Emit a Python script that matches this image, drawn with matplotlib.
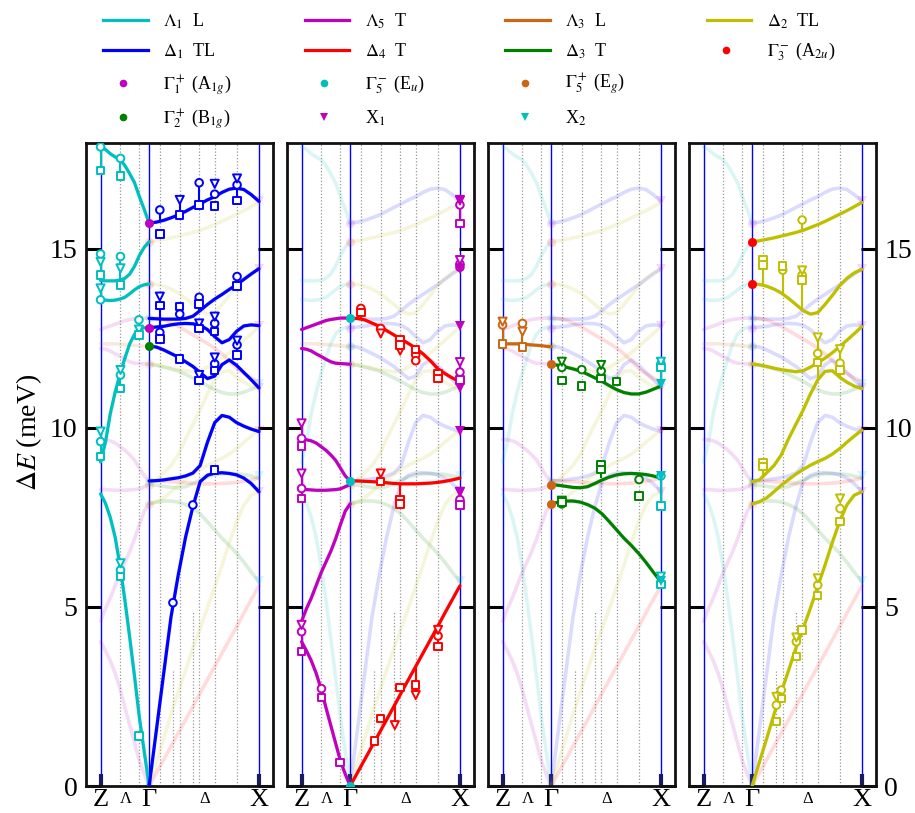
import matplotlib
matplotlib.use('Agg')
import matplotlib.pyplot as plt

plt.rcParams['font.family'] = ['Liberation Serif', 'DejaVu Serif']
plt.rcParams['mathtext.fontset'] = 'stix'

# ---------------- data ----------------
ZP, GP, XP = 0.0, 1.0, 3.26          # positions of Z, Gamma, X
XL = [0.0, 0.1, 0.2, 0.3, 0.4, 0.5, 0.6, 0.7, 0.8, 0.9, 1.0]
XD = [1.0, 1.15, 1.3, 1.45, 1.6, 1.75, 1.9, 2.05, 2.2, 2.35, 2.5, 2.65, 2.8, 2.95, 3.1, 3.26]

# Lambda_1 (L)
lam1_a = [8.16, 7.9, 7.5, 6.95, 6.15, 5.2, 4.15, 3.05, 1.9, 0.95, 0.0]
lam1_b = [9.05, 9.6, 10.4, 11.0, 11.5, 11.95, 12.35, 12.62, 12.76, 12.8, 12.8]
lam1_c = [13.6, 13.57, 13.56, 13.57, 13.6, 13.65, 13.75, 13.86, 13.95, 14.0, 14.02]
lam1_d = [14.12, 14.11, 14.11, 14.11, 14.13, 14.18, 14.3, 14.52, 14.82, 15.05, 15.2]
lam1_e = [17.85, 17.78, 17.66, 17.57, 17.5, 17.33, 17.1, 16.85, 16.46, 16.1, 15.72]
# Lambda_5 (T)
lam5_a = [4.03, 3.78, 3.5, 3.15, 2.72, 2.2, 1.7, 1.2, 0.7, 0.33, 0.0]
lam5_b = [4.6, 4.95, 5.25, 5.6, 5.95, 6.25, 6.55, 6.9, 7.3, 7.68, 7.88]
lam5_c = [8.28, 8.28, 8.27, 8.26, 8.26, 8.26, 8.27, 8.28, 8.3, 8.36, 8.42]
lam5_d = [9.68, 9.67, 9.64, 9.58, 9.48, 9.38, 9.25, 9.1, 8.88, 8.66, 8.52]
lam5_e = [12.22, 12.2, 12.15, 12.07, 12.0, 11.92, 11.85, 11.81, 11.8, 11.79, 11.78]
lam5_f = [12.75, 12.8, 12.85, 12.9, 12.95, 13.0, 13.03, 13.05, 13.07, 13.07, 13.07]
# Lambda_3 (L)
lam3_a = [12.35, 12.35, 12.35, 12.35, 12.34, 12.33, 12.32, 12.31, 12.3, 12.28, 12.27]
# Delta_1 (TL)
del1_a = [0.0, 1.57, 3.15, 4.72, 5.9, 6.95, 7.8, 8.5, 8.68, 8.74, 8.75, 8.73, 8.69, 8.6, 8.45, 8.22]
del1_b = [8.52, 8.53, 8.55, 8.58, 8.61, 8.66, 8.74, 8.95, 9.6, 10.15, 10.35, 10.3, 10.15, 10.05, 9.97, 9.9]
del1_c = [12.29, 12.26, 12.18, 12.08, 11.98, 11.85, 11.72, 11.55, 11.38, 11.45, 11.77, 11.9, 11.75, 11.55, 11.35, 11.12]
del1_d = [12.8, 12.82, 12.84, 12.88, 12.91, 12.92, 12.91, 12.87, 12.75, 12.55, 12.38, 12.47, 12.7, 12.85, 12.88, 12.86]
del1_e = [13.06, 13.05, 13.04, 13.04, 13.04, 13.06, 13.12, 13.28, 13.45, 13.6, 13.73, 13.87, 14.0, 14.15, 14.3, 14.45]
del1_f = [15.72, 15.75, 15.8, 15.87, 15.95, 16.05, 16.16, 16.26, 16.37, 16.46, 16.58, 16.67, 16.7, 16.66, 16.52, 16.33]
# Delta_4 (T)
del4_a = [0.0, 0.37, 0.74, 1.11, 1.48, 1.85, 2.22, 2.6, 2.97, 3.34, 3.71, 4.08, 4.45, 4.83, 5.2, 5.59]
del4_b = [8.52, 8.52, 8.51, 8.5, 8.49, 8.47, 8.45, 8.44, 8.44, 8.44, 8.45, 8.46, 8.48, 8.51, 8.55, 8.6]
del4_c = [13.06, 13.06, 13.02, 12.93, 12.84, 12.72, 12.6, 12.48, 12.36, 12.23, 12.07, 11.88, 11.66, 11.52, 11.4, 11.29]
# Delta_3 (T)
del3_a = [7.88, 7.93, 7.96, 7.96, 7.93, 7.86, 7.76, 7.6, 7.38, 7.15, 6.92, 6.72, 6.5, 6.25, 5.98, 5.7]
del3_b = [8.42, 8.4, 8.37, 8.34, 8.33, 8.36, 8.45, 8.55, 8.63, 8.69, 8.72, 8.73, 8.72, 8.7, 8.66, 8.6]
del3_c = [11.78, 11.75, 11.7, 11.65, 11.59, 11.5, 11.4, 11.3, 11.18, 11.07, 10.99, 10.95, 10.95, 11.0, 11.08, 11.17]
# Delta_2 (TL)
del2_a = [0.0, 0.67, 1.33, 2.0, 2.62, 3.23, 3.85, 4.4, 4.97, 5.57, 6.17, 6.8, 7.38, 7.85, 8.12, 8.22]
del2_b = [7.88, 7.94, 8.05, 8.22, 8.4, 8.56, 8.71, 8.84, 8.96, 9.06, 9.15, 9.27, 9.42, 9.6, 9.77, 9.94]
del2_c = [8.5, 8.55, 8.75, 8.95, 9.25, 9.7, 10.1, 10.5, 10.95, 11.34, 11.58, 11.6, 11.42, 11.28, 11.17, 11.1]
del2_d = [11.79, 11.76, 11.72, 11.67, 11.63, 11.6, 11.57, 11.6, 11.7, 11.82, 11.95, 12.1, 12.27, 12.45, 12.63, 12.83]
del2_e = [14.02, 14.01, 13.96, 13.88, 13.77, 13.62, 13.45, 13.28, 13.18, 13.22, 13.45, 13.7, 13.97, 14.18, 14.33, 14.43]
del2_f = [15.2, 15.23, 15.27, 15.31, 15.36, 15.41, 15.46, 15.52, 15.6, 15.68, 15.77, 15.87, 15.97, 16.07, 16.18, 16.3]

# symmetry points
gam_A1g = [15.72, 12.8]
gam_B1g = [12.29]
gam_Eu = [0.0, 8.52, 13.07]
gam_Eg = [7.88, 8.42, 11.78]
gam_A2u = [15.2, 14.02]
x1_E = [16.33, 14.45, 12.86, 11.13, 9.92, 8.22]
x2_E = [11.22, 8.65, 5.72]

# measured q positions (dotted lines)
q_full = [0.41, 0.79, 1.22, 1.63, 2.03, 2.35, 2.81]
q_part = [1.5, 1.91]
q_part_top = [3.2, 4.9]

# path labels
path_pos = [ZP, 0.52, GP, 2.15, XP]
path_lab = ['Z', 'Λ', 'Γ', 'Δ', 'X']

# experimental points, panel 1
p1_circ_x = [0, 0, 0, 0, 0.41, 0.41, 0.41, 0.41, 0.79, 1.22, 1.22, 1.63, 2.03, 2.03, 2.35, 2.35, 2.35, 2.81, 2.81, 2.81, 1.9, 1.49]
p1_circ_e = [17.85, 14.86, 13.58, 9.62, 17.53, 14.79, 11.48, 6.03, 13.02, 16.09, 12.67, 13.18, 16.85, 13.65, 16.53, 12.92, 11.79, 16.79, 14.23, 12.32, 7.85, 5.12]
p1_tri_x = [0, 0, 0, 0.41, 0.41, 0.41, 0.79, 1.22, 1.63, 2.03, 2.03, 2.35, 2.35, 2.35, 2.81, 2.81]
p1_tri_e = [14.64, 13.9, 9.9, 14.46, 11.62, 6.22, 12.75, 13.67, 16.37, 12.92, 11.48, 16.82, 13.11, 11.97, 16.97, 12.44]
p1_sq_x = [0, 0, 0, 0.41, 0.41, 0.41, 0.41, 0.79, 0.79, 1.22, 1.22, 1.22, 1.63, 1.63, 1.63, 2.03, 2.03, 2.03, 2.03, 2.35, 2.35, 2.35, 2.35, 2.81, 2.81, 2.81]
p1_sq_e = [17.19, 14.27, 9.2, 17.04, 13.99, 11.11, 5.85, 12.6, 1.4, 15.42, 13.42, 12.49, 15.95, 13.39, 11.93, 16.23, 13.46, 12.78, 11.32, 16.2, 12.69, 11.6, 8.83, 16.35, 13.97, 12.04]
p1_stem_x = [0, 0.41, 0, 0.41, 0, 0.41, 0, 0.41, 0.79, 1.22, 1.22, 1.63, 2.03, 2.03, 2.03, 2.35, 2.35, 2.81, 2.81, 2.81]
p1_stem_lo = [17.19, 17.04, 14.27, 13.99, 13.58, 11.11, 9.2, 5.85, 12.6, 15.77, 12.49, 15.95, 16.23, 13.3, 12.78, 12.55, 11.45, 12.04, 13.97, 16.35]
p1_stem_hi = [17.85, 17.53, 14.86, 14.79, 13.9, 11.62, 9.9, 6.22, 13.02, 16.09, 13.67, 16.37, 16.85, 13.65, 12.92, 13.11, 11.97, 12.44, 14.23, 16.97]

# panel 2
p2_circ_x = [0, 0, 0, 0.41, 1.22, 1.63, 2.35, 2.35, 2.81, 3.26, 3.26, 3.26, 3.26, 3.26]
p2_circ_e = [9.71, 8.31, 4.31, 2.72, 13.34, 12.78, 12.04, 11.88, 4.19, 16.23, 14.58, 14.49, 11.56, 8.0]
p2_tri_x = [0, 0, 0, 1.63, 1.63, 2.03, 1.92, 2.35, 2.81, 3.26, 3.26, 3.26, 3.26]
p2_tri_e = [10.13, 8.73, 4.5, 12.64, 8.73, 12.16, 1.7, 2.54, 4.36, 16.37, 14.69, 11.84, 8.22]
p2_sq_x = [0, 0, 0, 0.41, 0.79, 1.22, 1.5, 1.63, 1.63, 2.03, 2.03, 2.03, 2.03, 2.03, 2.35, 2.35, 2.81, 2.81, 2.81, 3.26, 3.26, 3.26]
p2_sq_e = [9.5, 8.03, 3.75, 2.47, 0.65, 13.22, 1.26, 8.5, 1.89, 12.46, 12.32, 7.99, 7.88, 2.75, 12.2, 2.82, 11.53, 11.39, 3.89, 15.72, 11.34, 7.85]
p2_stem_x = [0, 0, 0, 1.22, 2.03, 2.03, 1.92, 2.35, 2.81, 3.26, 3.26, 3.26, 3.26]
p2_stem_lo = [9.5, 8.03, 3.75, 13.06, 7.88, 12.16, 1.7, 2.54, 3.89, 15.72, 11.15, 7.85, 14.4]
p2_stem_hi = [10.13, 8.73, 4.5, 13.34, 8.45, 12.46, 2.3, 3.34, 4.45, 16.37, 11.84, 8.22, 14.69]

# panel 3
p3_circ_x = [0, 0.41, 1.22, 1.22, 1.63, 2.03, 2.81, 3.26, 3.26]
p3_circ_e = [12.88, 12.92, 11.69, 7.88, 11.63, 11.59, 8.56, 11.79, 8.66]
p3_tri_x = [0, 0.41, 1.22, 1.22, 2.03, 3.26, 3.26]
p3_tri_e = [12.97, 12.69, 11.85, 7.97, 11.76, 11.85, 5.85]
p3_sq_x = [0, 0.41, 1.22, 1.22, 1.63, 2.03, 2.03, 2.03, 2.35, 2.81, 3.26, 3.26, 3.26]
p3_sq_e = [12.35, 12.26, 11.32, 7.93, 11.17, 11.39, 8.97, 8.84, 11.29, 8.1, 11.69, 7.82, 5.62]
p3_stem_x = [0, 0.41, 2.03, 3.26, 3.26, 3.26]
p3_stem_lo = [12.35, 12.3, 8.6, 11.2, 7.82, 5.62]
p3_stem_hi = [12.97, 12.92, 8.97, 11.85, 8.66, 5.85]

# panel 4
p4_circ_x = [1.63, 2.03, 2.03, 2.35, 2.81, 1.5, 1.6, 1.91, 2.35, 2.81]
p4_circ_e = [14.41, 15.81, 14.27, 12.08, 11.81, 2.26, 2.68, 4.03, 5.61, 7.75]
p4_tri_x = [2.03, 2.35, 2.81, 1.5, 1.91, 2.35, 2.81]
p4_tri_e = [14.4, 12.53, 12.2, 2.49, 4.15, 5.8, 8.03]
p4_sq_x = [1.22, 1.22, 1.63, 2.03, 2.35, 2.81, 1.22, 1.22, 1.5, 1.6, 1.91, 2.03, 2.35, 2.81]
p4_sq_e = [14.71, 14.55, 14.52, 14.13, 11.82, 11.62, 9.02, 8.92, 1.8, 2.45, 3.61, 4.36, 5.33, 7.38]
p4_stem_x = [1.22, 1.63, 2.03, 2.03, 2.35, 2.81, 1.22, 1.91]
p4_stem_lo = [14.0, 13.77, 15.52, 13.28, 11.34, 11.42, 8.6, 3.61]
p4_stem_hi = [14.71, 14.52, 15.81, 14.4, 12.53, 12.2, 9.02, 4.15]

# ---------------- style ----------------
C_CYAN = '#00bfbf'
C_BLUE = '#0000ff'
C_MAG = '#bf00bf'
C_RED = '#ff0000'
C_ORANGE = '#cc6611'
C_GREEN = '#008000'
C_OLIVE = '#bfbf00'

branches = [
    (XL, lam1_a, C_CYAN, 0), (XL, lam1_b, C_CYAN, 0), (XL, lam1_c, C_CYAN, 0),
    (XL, lam1_d, C_CYAN, 0), (XL, lam1_e, C_CYAN, 0),
    (XD, del1_a, C_BLUE, 0), (XD, del1_b, C_BLUE, 0), (XD, del1_c, C_BLUE, 0),
    (XD, del1_d, C_BLUE, 0), (XD, del1_e, C_BLUE, 0), (XD, del1_f, C_BLUE, 0),
    (XL, lam5_a, C_MAG, 1), (XL, lam5_b, C_MAG, 1), (XL, lam5_c, C_MAG, 1),
    (XL, lam5_d, C_MAG, 1), (XL, lam5_e, C_MAG, 1), (XL, lam5_f, C_MAG, 1),
    (XD, del4_a, C_RED, 1), (XD, del4_b, C_RED, 1), (XD, del4_c, C_RED, 1),
    (XL, lam3_a, C_ORANGE, 2),
    (XD, del3_a, C_GREEN, 2), (XD, del3_b, C_GREEN, 2), (XD, del3_c, C_GREEN, 2),
    (XD, del2_a, C_OLIVE, 3), (XD, del2_b, C_OLIVE, 3), (XD, del2_c, C_OLIVE, 3),
    (XD, del2_d, C_OLIVE, 3), (XD, del2_e, C_OLIVE, 3), (XD, del2_f, C_OLIVE, 3),
]
gamma_sets = [(gam_A1g, C_MAG, 0), (gam_B1g, C_GREEN, 0), (gam_Eu, C_CYAN, 1),
              (gam_Eg, C_ORANGE, 2), (gam_A2u, C_RED, 3)]
x_sets = [(x1_E, C_MAG, 1), (x2_E, C_CYAN, 2)]
panel_colors = [(C_CYAN, C_BLUE, C_BLUE), (C_MAG, C_RED, C_MAG),
                (C_ORANGE, C_GREEN, C_CYAN), (C_OLIVE, C_OLIVE, C_OLIVE)]
exp_data = [
    (p1_circ_x, p1_circ_e, p1_tri_x, p1_tri_e, p1_sq_x, p1_sq_e, p1_stem_x, p1_stem_lo, p1_stem_hi),
    (p2_circ_x, p2_circ_e, p2_tri_x, p2_tri_e, p2_sq_x, p2_sq_e, p2_stem_x, p2_stem_lo, p2_stem_hi),
    (p3_circ_x, p3_circ_e, p3_tri_x, p3_tri_e, p3_sq_x, p3_sq_e, p3_stem_x, p3_stem_lo, p3_stem_hi),
    (p4_circ_x, p4_circ_e, p4_tri_x, p4_tri_e, p4_sq_x, p4_sq_e, p4_stem_x, p4_stem_lo, p4_stem_hi),
]

def seg_color(p, x):
    lam, dl, xx = panel_colors[p]
    if x < 0.99:
        return lam
    if x > 3.2:
        return xx
    return dl

W, H = 915, 813
fig = plt.figure(figsize=(W / 100, H / 100), dpi=100)

# overlay for legend (pixel coordinates)
lax = fig.add_axes([0, 0, 1, 1])
lax.set_xlim(0, W)
lax.set_ylim(H, 0)
lax.axis('off')

YMAX = 17.96
lefts_px = [86, 287, 488, 689]
wpx = 187
top_px, bot_px = 143, 786
axh = bot_px - top_px
axes = []
for p, lp in enumerate(lefts_px):
    ax = fig.add_axes([lp / W, 1 - bot_px / H, wpx / W, axh / H])
    axes.append(ax)
    ax.set_xlim(-0.30, 3.55)
    ax.set_ylim(0, YMAX)
    # dotted q lines
    for q in q_full:
        ax.plot([q, q], [0, YMAX], color='#999999', lw=0.9, ls=(0, (1, 1.6)), zorder=1)
    for q, t in zip(q_part, q_part_top):
        ax.plot([q, q], [0, t], color='#999999', lw=0.9, ls=(0, (1, 1.6)), zorder=1)
    for q in (ZP, GP, XP):
        ax.axvline(q, color='#0000ff', lw=1.0, zorder=1)
    # faint branches
    for xs, es, c, bp in branches:
        ax.plot(xs, es, color=c, lw=2.6, alpha=0.14, zorder=2, solid_capstyle='round')
    for es, c, bp in gamma_sets:
        ax.plot([GP] * len(es), es, 'o', color=c, ms=6.5, alpha=0.15, zorder=2, mew=0)
    for es, c, bp in x_sets:
        ax.plot([XP] * len(es), es, 'v', color=c, ms=6.5, alpha=0.15, zorder=2, mew=0)
    # bold branches
    for xs, es, c, bp in branches:
        if bp == p:
            ax.plot(xs, es, color=c, lw=2.3, zorder=3, solid_capstyle='round',
                    solid_joinstyle='round')
    # experimental points
    cx, ce, tx, te, sx, se, stx, stl, sth = exp_data[p]
    ax.vlines(stx, stl, sth, colors=[seg_color(p, x) for x in stx], lw=1.5, zorder=4)
    for xs, es, mk, sz in ((cx, ce, 'o', 30), (tx, te, 'v', 34), (sx, se, 's', 28)):
        ax.scatter(xs, es, s=sz, marker=mk, facecolors='white',
                   edgecolors=[seg_color(p, x) for x in xs], linewidths=1.4, zorder=5)
    # bold symmetry points
    for es, c, bp in gamma_sets:
        if bp == p:
            ax.plot([GP] * len(es), es, 'o', color=c, ms=6.5, zorder=6, mew=0)
    for es, c, bp in x_sets:
        if bp == p:
            ax.plot([XP] * len(es), es, 'v', color=c, ms=7, zorder=6, mew=0)
    # axes styling
    for s in ax.spines.values():
        s.set_linewidth(2.0)
        s.set_color('#111111')
    ax.set_xticks([ZP, GP, XP])
    ax.set_xticklabels([])
    ax.tick_params(axis='x', direction='in', length=9, width=3, color='#1a1a60')
    ax.set_yticks([0, 5, 10, 15])
    ax.tick_params(axis='y', direction='in', length=11, width=2.2, color='black',
                   left=True, right=True, labelleft=(p == 0), labelright=(p == 3),
                   labelsize=20, pad=6)
    tr = ax.get_xaxis_transform()
    for xpos, lab in zip(path_pos, path_lab):
        big = lab in ('Z', 'Γ', 'X')
        fs = 19 if big else 12
        yb = -(806 - bot_px) / axh if big else -(803 - bot_px) / axh
        ax.text(xpos, yb, lab, transform=tr, ha='center', va='baseline', fontsize=fs)

axes[0].set_ylabel(r'$\Delta E$ (meV)', fontsize=20)
axes[0].yaxis.set_label_coords(-0.225, 0.55)

# ---------------- legend ----------------
leg_rows = [20.5, 50.5, 83.5, 117.5]
col_line = [(103, 148), (305, 349), (505, 550), (707, 751)]
col_text = [163, 365, 565, 767]
leg_items = [
    [('line', C_CYAN, r'$\Lambda_1$  L'), ('line', C_BLUE, r'$\Delta_1$  TL'),
     ('dot', C_MAG, r'$\Gamma_1^+$ (A$_{1g}$)'), ('dot', C_GREEN, r'$\Gamma_2^+$ (B$_{1g}$)')],
    [('line', C_MAG, r'$\Lambda_5$  T'), ('line', C_RED, r'$\Delta_4$  T'),
     ('dot', C_CYAN, r'$\Gamma_5^-$ (E$_u$)'), ('tri', C_MAG, r'X$_1$')],
    [('line', C_ORANGE, r'$\Lambda_3$  L'), ('line', C_GREEN, r'$\Delta_3$  T'),
     ('dot', C_ORANGE, r'$\Gamma_5^+$ (E$_g$)'), ('tri', C_CYAN, r'X$_2$')],
    [('line', C_OLIVE, r'$\Delta_2$  TL'), ('dot', C_RED, r'$\Gamma_3^-$ (A$_{2u}$)')],
]
for ci, items in enumerate(leg_items):
    x0, x1 = col_line[ci]
    for ri, (kind, c, txt) in enumerate(items):
        y = leg_rows[ri]
        if kind == 'line':
            lax.plot([x0, x1], [y, y], color=c, lw=2.3)
        elif kind == 'dot':
            lax.plot([(x0 + x1) / 2 - 3], [y], 'o', color=c, ms=5.5, mew=0)
        else:
            lax.plot([(x0 + x1) / 2 - 3], [y], 'v', color=c, ms=6, mew=0)
        lax.text(col_text[ci], y + 6, txt, fontsize=13, ha='left', va='baseline')

fig.savefig('out.png', dpi=100)
